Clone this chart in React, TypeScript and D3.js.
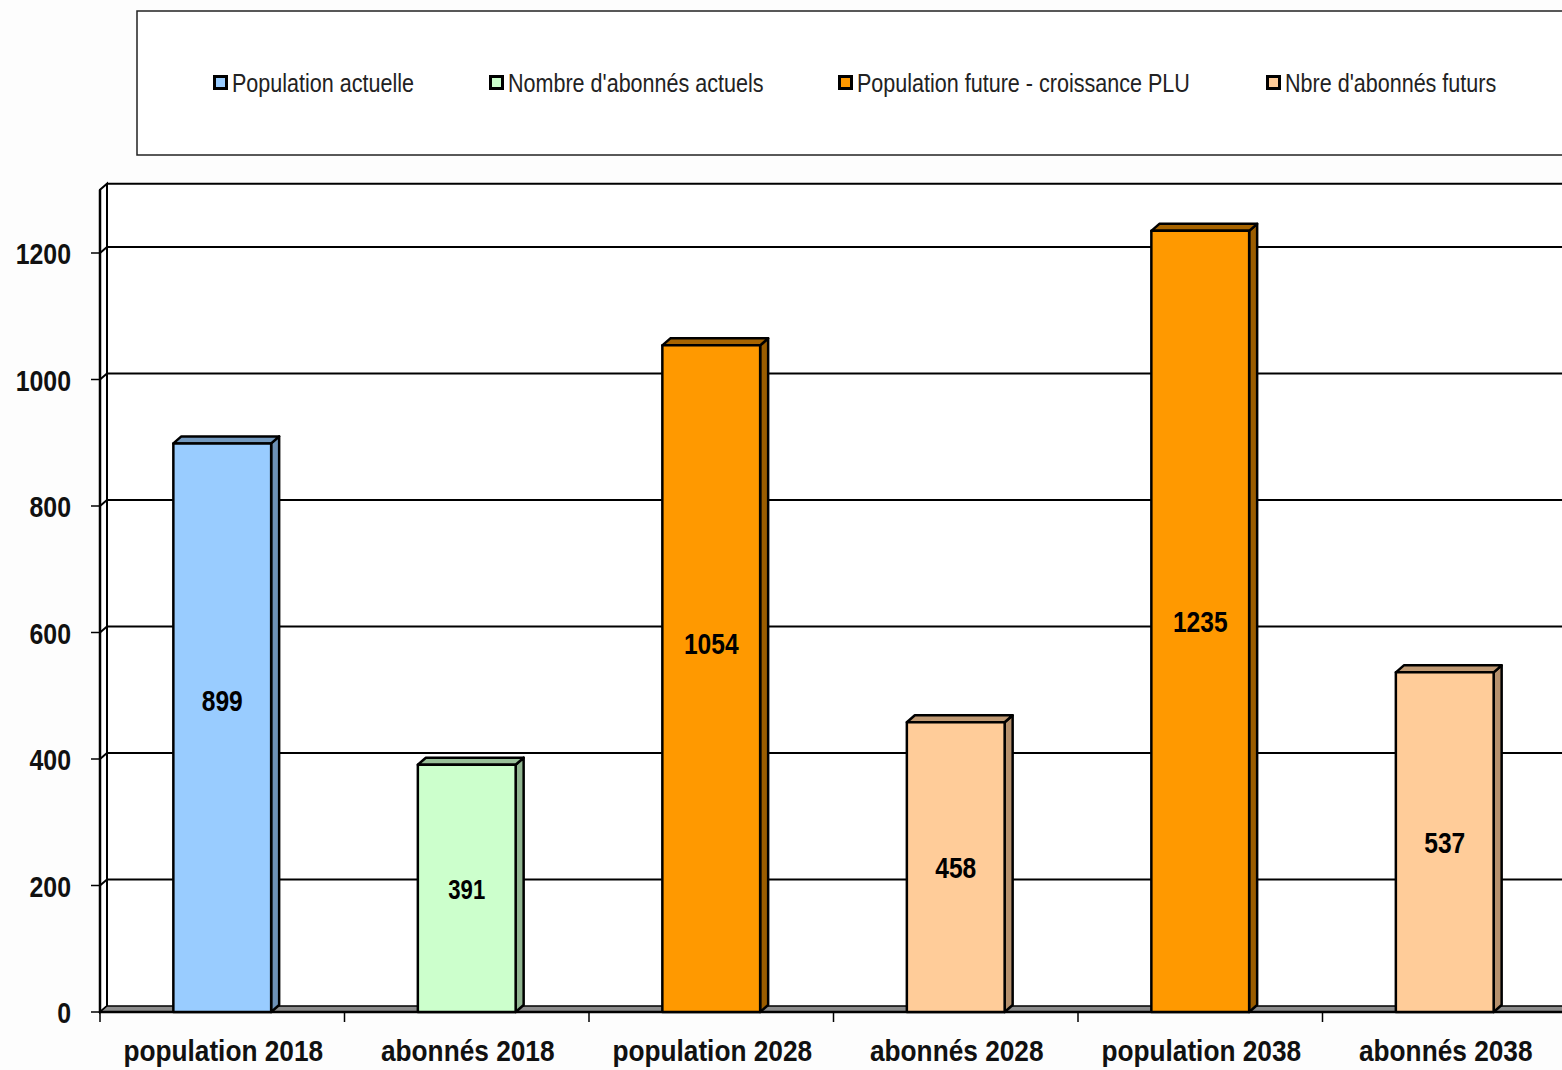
import React from 'react';
import * as d3 from 'd3';

const categories = ['population 2018', 'abonnés 2018', 'population 2028', 'abonnés 2028', 'population 2038', 'abonnés 2038'];
const values = [899, 391, 1054, 458, 1235, 537];
const seriesIndex = [0, 1, 2, 3, 2, 3];
const seriesNames = ['Population actuelle', "Nombre d'abonnés actuels", 'Population future - croissance PLU', "Nbre d'abonnés futurs"];
const seriesColors = ['#99CCFF', '#CCFFCC', '#FF9900', '#FFCC99'];
const seriesSideDarken = [0.95, 0.95, 1.4, 0.95];
const yTicks = [0, 200, 400, 600, 800, 1000, 1200];
// value at which each bar's label is placed
const labelAt = [493, 195.5, 583, 229, 617.5, 268.5];
const legendX = [213, 489, 838, 1266];

const W = 1562;
const H = 1070;
const DX = 7;
const DY = -6;
const FONT = '"Liberation Sans", Arial, sans-serif';

export default function App() {
  const y = d3.scaleLinear().domain([0, 1200]).range([1012, 253]);
  const x = d3
    .scaleBand<string>()
    .domain(categories)
    .range([100, 1567])
    .paddingInner(0.6)
    .paddingOuter(0.3);
  const step = x.step();
  const x0 = 100;
  const xEnd = 1580;
  const wallTopV = 1300;

  const bars = categories.map((c, i) => {
    const s = seriesIndex[i];
    const front = seriesColors[s];
    const side = d3.color(front)!.darker(seriesSideDarken[s]).formatHex();
    const top = d3.color(front)!.darker(seriesSideDarken[s] * 0.85).formatHex();
    const bx = x(c)!;
    const bw = x.bandwidth();
    const yt = y(values[i]);
    const yb = y(0);
    const sw = 2.5;
    return (
      <g key={c} stroke="#000" strokeWidth={sw} strokeLinejoin="round">
        <polygon
          points={`${bx + bw},${yt} ${bx + bw + DX + 1},${yt + DY - 1} ${bx + bw + DX + 1},${yb + DY - 1} ${bx + bw},${yb}`}
          fill={side}
        />
        <polygon
          points={`${bx},${yt} ${bx + DX + 1},${yt + DY - 1} ${bx + bw + DX + 1},${yt + DY - 1} ${bx + bw},${yt}`}
          fill={top}
        />
        <rect x={bx} y={yt} width={bw} height={yb - yt} fill={front} />
      </g>
    );
  });

  const labels = categories.map((c, i) => {
    const cx = x(c)! + x.bandwidth() / 2;
    const cy = y(labelAt[i]) + 11;
    return (
      <text
        key={c}
        transform={`translate(${cx},${cy}) scale(0.82,1)`}
        textAnchor="middle"
        fontFamily={FONT}
        fontWeight="bold"
        fontSize={i === 1 ? 27 : 30}
        fill="#000"
      >
        {values[i]}
      </text>
    );
  });

  return (
    <svg
      width={W}
      height={H}
      style={{ position: 'absolute', left: 0, top: 0, background: '#fff' }}
    >
      <rect x={0} y={0} width={W} height={H} fill="#fdfdfd" />
      {/* Legend */}
      <rect x={137} y={11} width={1500} height={144} fill="#fff" stroke="#222" strokeWidth={1.5} />
      {seriesNames.map((n, i) => (
        <g key={n}>
          <rect x={legendX[i] + 1.5} y={76.5} width={12} height={12} fill={seriesColors[i]} stroke="#000" strokeWidth={3} />
          <text
            transform={`translate(${legendX[i] + 19},${92}) scale(0.845,1)`}
            fontFamily={FONT}
            fontSize={25.5}
            fill="#222"
          >
            {n}
          </text>
        </g>
      ))}

      {/* Walls */}
      <polygon
        points={`${x0},${y(wallTopV)} ${x0 + DX},${y(wallTopV) + DY} ${x0 + DX},${y(0) + DY} ${x0},${y(0)}`}
        fill="#fff"
        stroke="#000"
        strokeWidth={2}
      />
      <rect x={x0 + DX} y={y(wallTopV) + DY} width={xEnd} height={y(0) - y(wallTopV)} fill="#fff" />
      <line x1={x0 + DX} x2={xEnd} y1={y(wallTopV) + DY} y2={y(wallTopV) + DY} stroke="#000" strokeWidth={2} />
      {/* Gridlines */}
      {yTicks.slice(1).map((t) => (
        <g key={t} stroke="#000" strokeWidth={2}>
          <line x1={x0} y1={y(t)} x2={x0 + DX} y2={y(t) + DY} />
          <line x1={x0 + DX} y1={y(t) + DY} x2={xEnd} y2={y(t) + DY} />
        </g>
      ))}
      {/* Floor */}
      <polygon
        points={`${x0},${y(0)} ${x0 + DX},${y(0) + DY} ${xEnd},${y(0) + DY} ${xEnd},${y(0)}`}
        fill="#8c8c8c"
        stroke="#000"
        strokeWidth={1.5}
      />
      <line x1={x0} x2={xEnd} y1={y(0)} y2={y(0)} stroke="#000" strokeWidth={2.5} />
      <line x1={x0} x2={x0} y1={y(wallTopV)} y2={y(0)} stroke="#000" strokeWidth={2.5} />
      <line x1={x0 + DX} x2={x0 + DX} y1={y(wallTopV) + DY} y2={y(0) + DY} stroke="#000" strokeWidth={2} />

      {/* Y ticks */}
      {yTicks.map((t) => (
        <g key={t}>
          <line x1={91} x2={x0} y1={y(t)} y2={y(t)} stroke="#000" strokeWidth={1.5} />
          <text
            transform={`translate(71,${y(t) + 11}) scale(0.83,1)`}
            textAnchor="end"
            fontFamily={FONT}
            fontWeight="bold"
            fontSize={30}
            fill="#111"
          >
            {t}
          </text>
        </g>
      ))}

      {/* X ticks */}
      {d3.range(categories.length + 1).map((i) => (
        <line key={i} x1={x0 + i * step} x2={x0 + i * step} y1={y(0)} y2={y(0) + 10} stroke="#000" strokeWidth={1.5} />
      ))}
      {categories.map((c) => (
        <text
          key={c}
          transform={`translate(${x(c)! + x.bandwidth() / 2 + 1},${1061}) scale(0.875,1)`}
          textAnchor="middle"
          fontFamily={FONT}
          fontWeight="bold"
          fontSize={30}
          fill="#111"
        >
          {c}
        </text>
      ))}

      {bars}
      {labels}
    </svg>
  );
}
